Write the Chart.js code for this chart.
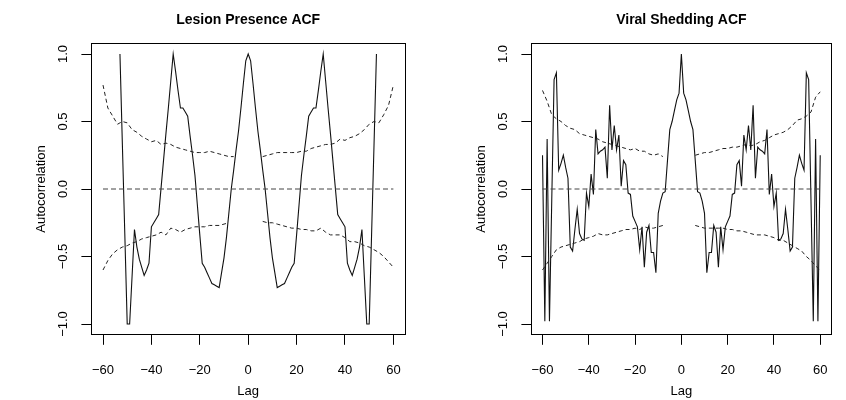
<!DOCTYPE html>
<html>
<head>
<meta charset="utf-8">
<script src="https://cdn.jsdelivr.net/npm/chart.js@4.4.1/dist/chart.umd.min.js"></script>
<style>
  html, body { margin: 0; padding: 0; background: #fff; }
  #wrap { position: relative; width: 846px; height: 400px; }
  canvas { position: absolute; top: 0; }
  #lesion { left: 0; }
  #viral { left: 440px; }
</style>
</head>
<body>
<div id="wrap">
  <canvas id="lesion" width="440" height="400"></canvas>
  <canvas id="viral" width="406" height="400"></canvas>
</div>
<script>
// Tick labels
const lagTicks = [-60, -40, -20, 0, 20, 40, 60];
const acfTicks = [-1, -0.5, 0, 0.5, 1];

// Lesion presence ACF
const lesionLags = [
  -53, -52, -51, -50, -49, -48, -47, -46, -45, -44, -43, -42, -41, -40, -39, -38, -37, -36,
  -35, -34, -33, -32, -31, -30, -29, -28, -27, -26, -25, -24, -23, -22, -21, -20, -19, -18,
  -17, -16, -15, -14, -13, -12, -11, -10, -9, -8, -7, -6, -5, -4, -3, -2, -1, 0,
  1, 2, 3, 4, 5, 6, 7, 8, 9, 10, 11, 12, 13, 14, 15, 16, 17, 18,
  19, 20, 21, 22, 23, 24, 25, 26, 27, 28, 29, 30, 31, 32, 33, 34, 35, 36,
  37, 38, 39, 40, 41, 42, 43, 44, 45, 46, 47, 48, 49, 50, 51, 52, 53
];
const lesionAcf = [
  1.00, 0.33, -0.33, -1.00, -1.00, -0.65, -0.30, -0.43, -0.52, -0.58, -0.64, -0.60, -0.55, -0.28, -0.25, -0.22, -0.19, 0.01,
  0.21, 0.41, 0.60, 0.80, 1.00, 0.87, 0.73, 0.60, 0.60, 0.57, 0.54, 0.39, 0.25, 0.10, -0.12, -0.34, -0.55, -0.58,
  -0.62, -0.66, -0.70, -0.71, -0.72, -0.73, -0.62, -0.51, -0.36, -0.18, 0.00, 0.14, 0.29, 0.43, 0.60, 0.78, 0.95, 1.00,
  0.95, 0.78, 0.60, 0.43, 0.29, 0.14, 0.00, -0.18, -0.36, -0.51, -0.62, -0.73, -0.72, -0.71, -0.70, -0.66, -0.62, -0.58,
  -0.55, -0.34, -0.12, 0.10, 0.25, 0.39, 0.54, 0.57, 0.60, 0.60, 0.73, 0.87, 1.00, 0.80, 0.60, 0.41, 0.21, 0.01,
  -0.19, -0.22, -0.25, -0.28, -0.55, -0.60, -0.64, -0.58, -0.52, -0.43, -0.30, -0.65, -1.00, -1.00, -0.33, 0.33, 1.00
];

// Viral shedding ACF
const viralLags = [
  -60, -59, -58, -57, -56, -55, -54, -53, -52, -51, -50, -49, -48, -47, -46, -45, -44, -43, -42, -41,
  -40, -39, -38, -37, -36, -35, -34, -33, -32, -31, -30, -29, -28, -27, -26, -25, -24, -23, -22, -21,
  -20, -19, -18, -17, -16, -15, -14, -13, -12, -11, -10, -9, -8, -7, -6, -5, -4, -3, -2, -1, 0,
  1, 2, 3, 4, 5, 6, 7, 8, 9, 10, 11, 12, 13, 14, 15, 16, 17, 18, 19, 20,
  21, 22, 23, 24, 25, 26, 27, 28, 29, 30, 31, 32, 33, 34, 35, 36, 37, 38, 39, 40,
  41, 42, 43, 44, 45, 46, 47, 48, 49, 50, 51, 52, 53, 54, 55, 56, 57, 58, 59, 60
];
const viralAcf = [
  0.25, -0.98, 0.37, -0.98, -0.08, 0.81, 0.86, 0.14, 0.19, 0.25, 0.16, 0.08, -0.43, -0.46, -0.30, -0.15, -0.33, -0.37, -0.38, -0.03,
  -0.13, 0.11, -0.04, 0.44, 0.26, 0.28, 0.29, 0.31, 0.08, 0.62, 0.29, 0.47, 0.29, 0.40, 0.02, 0.21, 0.18, -0.03, -0.04, -0.20,
  -0.24, -0.28, -0.45, -0.28, -0.58, -0.32, -0.27, -0.47, -0.47, -0.62, -0.18, -0.09, -0.03, -0.02, 0.21, 0.44, 0.50, 0.58, 0.66, 0.71, 1.00,
  0.71, 0.66, 0.58, 0.50, 0.44, 0.21, -0.02, -0.03, -0.09, -0.18, -0.62, -0.47, -0.47, -0.27, -0.32, -0.58, -0.28, -0.45, -0.28, -0.24,
  -0.20, -0.04, -0.03, 0.18, 0.21, 0.02, 0.40, 0.29, 0.47, 0.29, 0.62, 0.08, 0.31, 0.29, 0.28, 0.26, 0.44, -0.04, 0.11, -0.13,
  -0.03, -0.38, -0.37, -0.33, -0.15, -0.30, -0.46, -0.43, 0.08, 0.16, 0.25, 0.19, 0.14, 0.86, 0.81, -0.08, -0.98, 0.37, -0.98, 0.25
];

// Confidence bands (null = break)
const bandLags = [
  -60, -58, -56, -54, -52, -50, -48, -46, -44, -42, -40, -38, -36, -34, -32, -30, -28, -26, -24, -22,
  -20, -18, -16, -14, -12, -10, -8, -6, 0,
  6, 8, 10, 12, 14, 16, 18, 20, 22, 24, 26, 28, 30, 32, 34, 36, 38, 40, 42, 44,
  46, 48, 50, 52, 54, 56, 58, 60
];
const lesionUpper = [
  0.77, 0.60, 0.54, 0.48, 0.50, 0.49, 0.44, 0.42, 0.39, 0.37, 0.35, 0.36, 0.33, 0.34, 0.33, 0.31, 0.30, 0.29, 0.28, 0.27,
  0.27, 0.27, 0.28, 0.27, 0.26, 0.25, 0.24, 0.24, null,
  0.24, 0.25, 0.26, 0.27, 0.27, 0.27, 0.27, 0.27, 0.28, 0.28, 0.30, 0.31, 0.32, 0.33, 0.33, 0.34, 0.37, 0.36, 0.38, 0.39,
  0.41, 0.44, 0.48, 0.50, 0.49, 0.55, 0.62, 0.77
];
const lesionLower = [
  -0.60, -0.53, -0.48, -0.45, -0.43, -0.42, -0.40, -0.39, -0.37, -0.36, -0.35, -0.34, -0.32, -0.34, -0.29, -0.30, -0.32, -0.30, -0.29, -0.28,
  -0.28, -0.28, -0.27, -0.27, -0.27, -0.26, -0.25, null, null,
  -0.24, -0.25, -0.25, -0.26, -0.27, -0.28, -0.29, -0.29, -0.30, -0.30, -0.31, -0.31, -0.29, -0.32, -0.34, -0.34, -0.34, -0.36, -0.39, -0.39,
  -0.40, -0.42, -0.43, -0.45, -0.47, -0.50, -0.54, -0.58
];
const viralUpper = [
  0.73, 0.65, 0.55, 0.52, 0.50, 0.47, 0.45, 0.44, 0.41, 0.40, 0.39, 0.38, 0.37, 0.35, 0.34, 0.33, 0.32, 0.31, 0.30, 0.29,
  0.30, 0.28, 0.28, 0.26, 0.25, 0.26, 0.24, null, null,
  0.25, 0.26, 0.27, 0.27, 0.28, 0.29, 0.30, 0.30, 0.31, 0.31, 0.32, 0.33, 0.32, 0.33, 0.35, 0.36, 0.38, 0.40, 0.41, 0.42,
  0.44, 0.47, 0.51, 0.52, 0.54, 0.57, 0.68, 0.72
];
const viralLower = [
  -0.60, -0.55, -0.50, -0.45, -0.43, -0.42, -0.41, -0.40, -0.39, -0.37, -0.36, -0.35, -0.33, -0.34, -0.34, -0.33, -0.32, -0.31, -0.30, -0.30,
  -0.29, -0.30, -0.28, -0.29, -0.29, -0.28, -0.27, null, null,
  -0.27, -0.28, -0.29, -0.29, -0.29, -0.29, -0.29, -0.30, -0.30, -0.31, -0.31, -0.32, -0.33, -0.34, -0.34, -0.34, -0.35, -0.36, -0.38, -0.38,
  -0.40, -0.42, -0.44, -0.46, -0.50, -0.53, -0.57, -0.60
];

const zeroLags = [-60, 60];
const zeroVals = [0, 0];

const FONT = 'Liberation Sans, Arial, Helvetica, sans-serif';
const pts = (xs, ys) => xs.map((x, i) => ({ x: x, y: ys[i] }));
const minus = s => s.replace('-', '\u2212');

function makePanel(id, title, lags, acf, upper, lower, padRight) {
    const tickFont = { family: FONT, size: 13 };
    return new Chart(document.getElementById(id), {
        type: 'line',
        data: {
            datasets: [
                { data: pts(zeroLags, zeroVals), borderColor: '#444', borderWidth: 1, borderDash: [5, 3] },
                { data: pts(bandLags, upper), borderColor: '#222', borderWidth: 1, borderDash: [4, 3] },
                { data: pts(bandLags, lower), borderColor: '#222', borderWidth: 1, borderDash: [4, 3] },
                { data: pts(lags, acf), borderColor: '#111', borderWidth: 1.1 }
            ]
        },
        options: {
            responsive: false,
            animation: false,
            devicePixelRatio: 1,
            spanGaps: false,
            layout: { padding: { left: 0, right: padRight, top: 0, bottom: 0 } },
            elements: { point: { radius: 0 }, line: { tension: 0 } },
            plugins: { legend: { display: false }, tooltip: { enabled: false } },
            scales: {
                x: {
                    type: 'linear', position: 'bottom', min: -64.8, max: 64.8,
                    afterBuildTicks: s => { s.ticks = lagTicks.map(v => ({ value: v })); },
                    afterFit: s => { s.height = 65.2; },
                    grid: { drawOnChartArea: false, tickLength: 10, color: '#000' },
                    border: { display: true, color: '#000' },
                    ticks: {
                        autoSkip: false, maxRotation: 0, padding: 18, color: '#000', font: tickFont,
                        callback: v => minus(String(v))
                    },
                    title: { display: true, text: 'Lag', color: '#000', font: tickFont, padding: { top: 0, bottom: 1 } }
                },
                top: {
                    type: 'linear', axis: 'x', position: 'top', min: -64.8, max: 64.8,
                    afterFit: s => { s.height = 43.2; },
                    grid: { display: false },
                    border: { display: true, color: '#000' },
                    ticks: { display: false },
                    title: {
                        display: true, text: title, color: '#000',
                        font: { family: FONT, size: 14, weight: 'bold' }, padding: { top: 12, bottom: 0 }
                    }
                },
                y: {
                    type: 'linear', position: 'left', min: -1.08, max: 1.08,
                    afterBuildTicks: s => { s.ticks = acfTicks.map(v => ({ value: v })); },
                    afterFit: s => { s.width = 91.4; },
                    grid: { drawOnChartArea: false, tickLength: 10, color: '#000' },
                    border: { display: true, color: '#000' },
                    ticks: {
                        minRotation: 90, maxRotation: 90, crossAlign: 'center', padding: 5,
                        color: '#000', font: tickFont,
                        callback: v => minus(v.toFixed(1))
                    },
                    title: { display: true, text: 'Autocorrelation', color: '#000', font: tickFont, padding: { top: 34, bottom: 0 } }
                },
                right: {
                    type: 'linear', axis: 'y', position: 'right', min: -1.08, max: 1.08,
                    afterFit: s => { s.width = 0; },
                    grid: { display: false },
                    border: { display: true, color: '#000' },
                    ticks: { display: false }
                }
            }
        }
    });
}

makePanel('lesion', 'Lesion Presence ACF', lesionLags, lesionAcf, lesionUpper, lesionLower, 35);
makePanel('viral', 'Viral Shedding ACF', viralLags, viralAcf, viralUpper, viralLower, 1);
</script>
</body>
</html>
